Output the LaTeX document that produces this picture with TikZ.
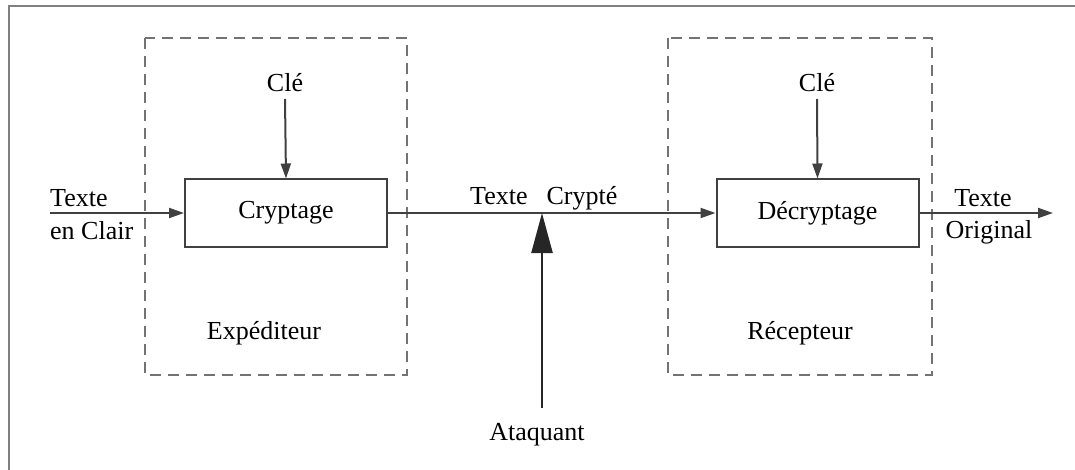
\documentclass[tikz,border=0pt]{standalone}
\usepackage{fontspec}
\setmainfont{Liberation Serif}
\usetikzlibrary{arrows.meta}
\begin{document}
\begin{tikzpicture}[x=1pt,y=-1pt,
  every node/.style={font=\fontsize{26}{30}\selectfont, text=black},
  procbox/.style={draw=black!75, line width=2pt, minimum width=202pt, minimum height=67pt, inner sep=0pt},
  group/.style={draw=black!55, line width=2pt, dash pattern=on 11pt off 7pt},
  flow/.style={draw=black!75, line width=2pt, -{Triangle[length=15pt,width=10pt]}},
  bigflow/.style={draw=black!85, line width=2.4pt, -{Triangle[length=40pt,width=21pt]}},
  lbl/.style={inner sep=0pt}
]
\useasboundingbox (0,0) rectangle (1075,470);
% outer frame
\draw[black!50, line width=2pt] (8.5,470) -- (8.5,6.5) -- (1075,6.5);
% dashed groups
\draw[group] (145,38) rectangle (407,375);
\draw[group] (668,38) rectangle (932,375);
% boxes
\node[procbox] (enc) at (286,213) {Cryptage};
\node[procbox] (dec) at (817.5,213) {Décryptage};
% keys
\node[lbl, anchor=base] (k1) at (285,92) {Clé};
\node[lbl, anchor=base] (k2) at (817,92) {Clé};
\draw[flow] (k1.south |- 0,99) -- (enc.north);
\draw[flow] (k2.south |- 0,99) -- (dec.north);
% input / output
\coordinate (in) at (50,213);
\coordinate (out) at (1053,213);
\draw[flow] (in) -- (enc.west);
\draw[flow] (enc.east) -- (dec.west);
\draw[flow] (dec.east) -- (out);
\node[lbl, anchor=base west] (t1) at (50,207) {Texte};
\node[lbl, anchor=base west] (t2) at (50,240) {en Clair};
\node[lbl, anchor=base] (t3) at (983,207) {Texte};
\node[lbl, anchor=base] (t4) at (989,239) {Original};
\node[lbl, anchor=base west] (tc) at (470,205) {Texte\hspace{19pt}Crypté};
% group labels
\node[lbl, anchor=base] (exp) at (264,339) {Expéditeur};
\node[lbl, anchor=base] (rec) at (800,339) {Récepteur};
% attacker
\node[lbl, anchor=base] (att) at (537,440) {Ataquant};
\coordinate (attfoot) at (542,408);
\coordinate (hit) at (542,213);
\draw[bigflow] (attfoot) -- (hit);
\end{tikzpicture}
\end{document}
